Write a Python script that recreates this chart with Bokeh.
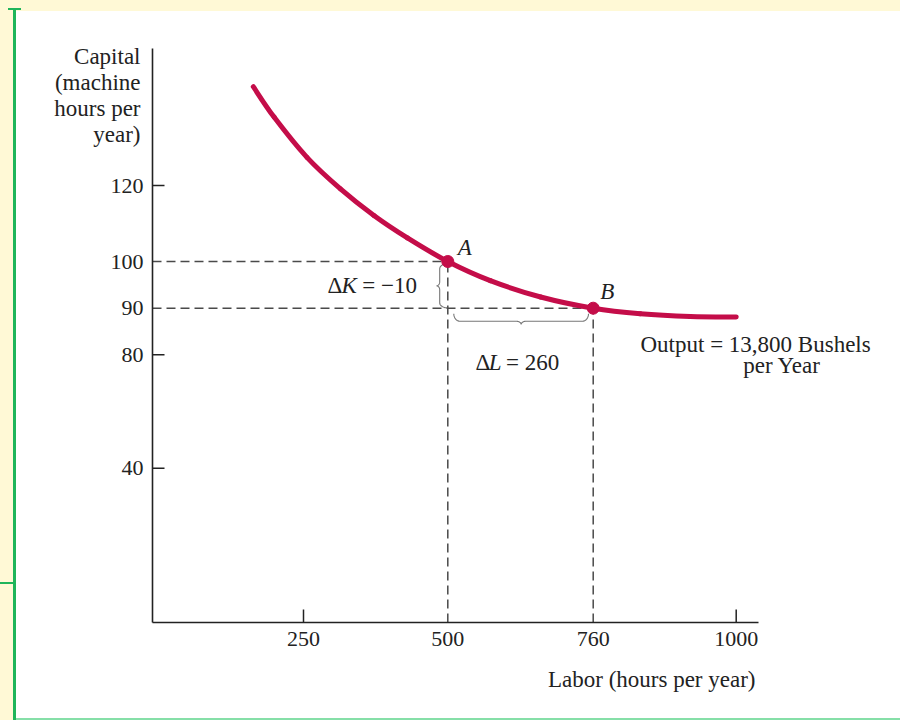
import numpy as np
from bokeh.plotting import figure
from bokeh.models import Range1d, FixedTicker, Label
from bokeh.embed import file_html
from bokeh.resources import INLINE

# ---------------- data ----------------
labor_ticks = [250, 500, 760, 1000]
capital_ticks = [40, 80, 90, 100, 120]
labor_marked = [250, 1000]          # ticks drawn with a tick mark
capital_marked = [40, 80, 120]

curve_labor = [163, 199, 256, 314, 372, 430, 500, 576, 666, 760, 839, 923, 1000]
curve_capital = [146.0, 138.0, 127.4, 119.1, 112.1, 106.2, 100.0, 95.9, 92.4, 90.0, 88.8, 88.2, 88.1]

point_names = ["A", "B"]
point_labor = [500, 760]
point_capital = [100, 90]

delta_k_text = "= \u221210"
delta_l_text = "= 260"
output_text = ["Output = 13,800 Bushels", "per Year"]
y_title = ["Capital", "(machine", "hours per", "year)"]
x_title = "Labor (hours per year)"

# ---------------- axis layout: value -> distance (px) from the origin ----------------
X_STOPS_VAL = [0, 250, 500, 760, 1000, 1100]
X_STOPS_POS = [6.7, 151.0, 295.3, 440.7, 583.7, 643.3]
Y_STOPS_VAL = [0, 40, 80, 90, 100, 120, 160]
Y_STOPS_POS = [0.0, 154.3, 267.7, 314.3, 361.0, 437.0, 589.0]
X_AXIS_LEN = 606
Y_AXIS_LEN = 574


def mx(v):
    return np.interp(v, X_STOPS_VAL, X_STOPS_POS)


def my(v):
    return np.interp(v, Y_STOPS_VAL, Y_STOPS_POS)


RED = "#c40d49"
INK = "#222222"
DASH = "#4a4a4a"
FONT = "Liberation Serif"

W, H = 900, 720
OX, OY = 152, 622   # where the axes cross on the canvas
p = figure(width=W, height=H, output_backend="svg", toolbar_location=None,
           x_range=Range1d(-OX, W - OX), y_range=Range1d(OY - H, OY),
           min_border=0, min_border_left=0, min_border_right=0,
           min_border_top=0, min_border_bottom=0)
p.xgrid.visible = False
p.ygrid.visible = False
p.outline_line_color = None
p.background_fill_color = None
p.border_fill_color = None

# page decoration (strips and green rules)
Y_ = "#fff9d6"
G_ = "#1fb55a"
LG_ = "#86dfa8"
p.styles = {
    "background-color": "#ffffff",
    "background-image": ", ".join([f"linear-gradient({c},{c})" for c in [G_, G_, G_, LG_, Y_, Y_]]),
    "background-position": "8px 8px, 0px 582px, 13px 8px, 16px 718px, 0px 0px, 0px 0px",
    "background-size": "13px 2px, 14px 2px, 3px 100%, 100% 2px, 13px 100%, 100% 11px",
    "background-repeat": "no-repeat",
}

# axes (drawn at the origin, bounded like the original)
xt = [round(float(mx(v)), 2) for v in labor_ticks]
yt = [round(float(my(v)), 2) for v in capital_ticks]
p.xaxis.ticker = FixedTicker(ticks=xt)
p.yaxis.ticker = FixedTicker(ticks=yt)
p.xaxis.major_label_overrides = {k: str(v) for k, v in zip(xt, labor_ticks)}
p.yaxis.major_label_overrides = {k: str(v) for k, v in zip(yt, capital_ticks)}
p.xaxis.fixed_location = 0
p.yaxis.fixed_location = 0
p.xaxis.bounds = (0, X_AXIS_LEN)
p.yaxis.bounds = (0, Y_AXIS_LEN)
for ax in (p.xaxis[0], p.yaxis[0]):
    ax.axis_line_color = INK
    ax.axis_line_width = 1.6
    ax.major_tick_line_color = None
    ax.minor_tick_line_color = None
    ax.major_tick_in = 0
    ax.major_tick_out = 0
    ax.major_label_text_font = FONT
    ax.major_label_text_font_size = "22px"
    ax.major_label_text_color = INK
p.xaxis.major_label_standoff = 9
p.yaxis.major_label_standoff = 9

# tick marks (inside) for the marked ticks
cm = my(capital_marked)
p.segment(x0=[0] * len(cm), y0=cm, x1=[12] * len(cm), y1=cm, line_color=INK, line_width=1.5)
lm = mx(labor_marked)
p.segment(x0=lm, y0=[0] * len(lm), x1=lm, y1=[13] * len(lm), line_color=INK, line_width=1.5)

# dashed guide lines
px_ = mx(point_labor)
py_ = my(point_capital)
p.segment(x0=[0] * 2, y0=py_, x1=px_, y1=py_, line_color=DASH, line_width=1.5, line_dash="9 5")
p.segment(x0=px_, y0=[0] * 2, x1=px_, y1=py_, line_color=DASH, line_width=1.5, line_dash="9 5")


# braces
def brace(a0, a1, depth, tip, r, r2, n=12):
    th = np.linspace(0, np.pi / 2, n)
    m = (a0 + a1) / 2
    t1 = a0 + r * (1 - np.cos(th)); n1 = depth * np.sin(th)
    t2 = m - r2 + r2 * np.sin(th); n2 = depth + tip * (1 - np.cos(th))
    t3 = m + r2 - r2 * np.sin(th)[::-1]; n3 = depth + tip * (1 - np.cos(th))[::-1]
    t4 = a1 - r * (1 - np.cos(th))[::-1]; n4 = depth * np.sin(th)[::-1]
    return np.concatenate([t1, t2, t3, t4]), np.concatenate([n1, n2, n3, n4])


tk, nk = brace(float(py_[1]) + 0.4, float(py_[0]) - 2.3, 7.5, 3.2, 5, 4)
xe = float(px_[0]) - 0.6
p.line(xe - nk, tk, line_color="#777777", line_width=1.1)
tl, nl = brace(float(px_[0]) + 6, float(px_[1]) - 4.7, 7.4, 3.3, 6, 5)
ye = float(py_[1]) - 5.6
p.line(tl, ye - nl, line_color="#777777", line_width=1.1)

# isoquant: smooth curve through the read points (Catmull-Rom as cubic Beziers)
cx = mx(curve_labor)
cy = my(curve_capital)
ex = np.concatenate([[cx[0]], cx, [cx[-1]]])
ey = np.concatenate([[cy[0]], cy, [cy[-1]]])
c0x = ex[1:-2] + (ex[2:-1] - ex[:-3]) / 6
c0y = ey[1:-2] + (ey[2:-1] - ey[:-3]) / 6
c1x = ex[2:-1] - (ex[3:] - ex[1:-2]) / 6
c1y = ey[2:-1] - (ey[3:] - ey[1:-2]) / 6
p.bezier(x0=cx[:-1], y0=cy[:-1], x1=cx[1:], y1=cy[1:], cx0=c0x, cy0=c0y, cx1=c1x, cy1=c1y,
         line_color=RED, line_width=5, line_cap="round")
p.scatter(px_, py_, size=12, color=RED)

TEXT_LIFT = 8  # compensates the renderer's baseline placement


def lab(x, y, text, align="left", italic=False, size="23px"):
    p.add_layout(Label(x=float(x), y=float(y) + TEXT_LIFT, text=text, text_font=FONT,
                       text_font_size=size, text_color=INK, text_align=align,
                       text_baseline="alphabetic",
                       text_font_style="italic" if italic else "normal"))


# point names
lab(px_[0] + 10, py_[0] + 6, point_names[0], italic=True)
lab(px_[1] + 7, py_[1] + 9, point_names[1], italic=True)

# delta K
ymid = (py_[0] + py_[1]) / 2
lab(px_[0] - 120.3, ymid - 9, "\u0394")
lab(px_[0] - 106.3, ymid - 9, "K", italic=True)
lab(px_[0] - 85.6, ymid - 9, delta_k_text)

# delta L
xmid = (px_[0] + px_[1]) / 2
lab(xmid - 45, py_[1] - 62.3, "\u0394")
lab(xmid - 31.7, py_[1] - 62.3, "L", italic=True)
lab(xmid - 14.5, py_[1] - 62.3, delta_l_text)

# output label
lab(488, 270.3, output_text[0])
lab(590.7, 248.7, output_text[1])

# axis titles
for i, s in enumerate(y_title):
    lab(-12, 558 - 26 * i, s, align="right")
lab(603, -64.7, x_title, align="right")

open("out.html", "w").write(file_html(p, INLINE))
